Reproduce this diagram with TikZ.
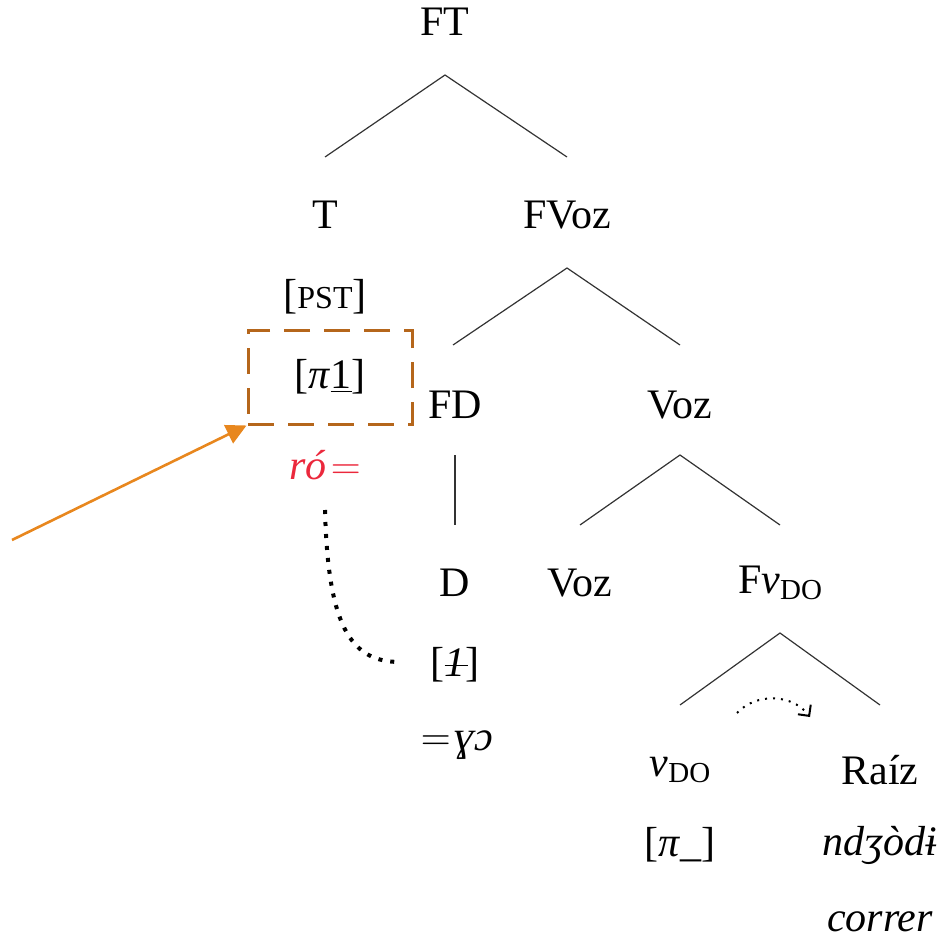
\documentclass[tikz,border=0pt]{standalone}
\usepackage{fontspec}
\setmainfont{Liberation Serif}
\usepackage{tikz}
\usetikzlibrary{arrows.meta,positioning,calc}
\usepackage{xcolor}
\definecolor{boxbrown}{RGB}{181,102,27}
\definecolor{arrorange}{RGB}{232,135,30}
\definecolor{morphred}{RGB}{235,40,60}
\tikzstyle{lbl} = [inner sep=1pt, font=\fontsize{21}{25}\selectfont]
\tikzstyle{branch} = [line width=0.6pt, color=black!80]
\newcommand{\sub}[1]{\raisebox{-0.35ex}{\fontsize{14.5}{16}\selectfont #1}}
\newcommand{\strike}{\textit{1}\llap{\raisebox{0.55ex}{\rule{0.55em}{0.5pt}}\hspace{-0.05em}}}
\newcommand{\eqs}{\hspace{0.1em}$=$\hspace{0.1em}}

\begin{document}
\begin{tikzpicture}[x=0.5pt, y=-0.5pt]
\useasboundingbox (0,0) rectangle (944,942);

% Nodes of the tree
\node[lbl] (FT) at (445, 22) {FT};
\node[lbl] (T) at (325, 215) {T};
\node[lbl] (FVoz) at (567, 215) {FVoz};
\node[lbl] (pst) at (325, 297) {[{\fontsize{16}{18}\selectfont PST}]};
\node[lbl, draw=boxbrown, line width=1.5pt, dash pattern=on 13pt off 7pt,
  minimum width=82pt, minimum height=47pt] (box) at (330, 377) {[\textit{π}\underline{1}]};
\node[lbl, text=morphred] (ro) at (325, 465) {\textit{ró}\eqs};
\node[lbl] (FD) at (455, 405) {FD};
\node[lbl] (Voz) at (680, 405) {Voz};
\node[lbl] (D) at (455, 583) {D};
\node[lbl] (Voz2) at (580, 583) {Voz};
\node[lbl] (Fv) at (780, 583) {F\textit{v}\sub{DO}};
\node[lbl] (feat) at (455, 665) {[\strike]};
\node[lbl] (clit) at (455, 745) {\eqs\textit{ɣɔ}};
\node[lbl] (v) at (680, 770) {\textit{v}\sub{DO}};
\node[lbl] (Raiz) at (880, 770) {Raíz};
\node[lbl] (pi) at (680, 845) {[\textit{π}\_]};
\node[lbl] (root) at (880, 845) {\textit{ndʒòdɨ}};
\node[lbl] (gloss) at (880, 922) {\textit{correr}};

% Branch points
\coordinate (FT-a) at (445, 75);
\coordinate (T-t) at (325, 157);
\coordinate (FVoz-t) at (567, 157);
\coordinate (FVoz-a) at (567, 268);
\coordinate (FD-t) at (453, 345);
\coordinate (Voz-t) at (680, 345);
\coordinate (FD-b) at (455, 455);
\coordinate (D-t) at (455, 525);
\coordinate (Voz-a) at (680, 455);
\coordinate (Voz2-t) at (580, 525);
\coordinate (Fv-t) at (780, 525);
\coordinate (Fv-a) at (780, 633);
\coordinate (v-t) at (680, 705);
\coordinate (Raiz-t) at (880, 705);

\draw[branch] (T-t) -- (FT-a) -- (FVoz-t);
\draw[branch] (FD-t) -- (FVoz-a) -- (Voz-t);
\draw[branch] (FD-b) -- (D-t);
\draw[branch] (Voz2-t) -- (Voz-a) -- (Fv-t);
\draw[branch] (v-t) -- (Fv-a) -- (Raiz-t);

% Movement
\coordinate (ro-b) at (325, 510);
\coordinate (feat-w) at (400, 662);
\draw[line width=2pt, dash pattern=on 2pt off 4pt] (ro-b) .. controls (328, 625) and (350, 662) .. (feat-w);
\coordinate (mv-s) at (737, 713);
\coordinate (mv-e) at (810, 717);
\draw[line width=1pt, dash pattern=on 1pt off 3pt, -{Straight Barb[length=4pt]}] (mv-s) to[bend left=50] (mv-e);

% Pointer
\coordinate (ptr) at (12, 540);
\draw[arrorange, line width=1.3pt, -{Triangle[length=10pt, width=10pt]}] (ptr) -- (box.south west);
\end{tikzpicture}
\end{document}
